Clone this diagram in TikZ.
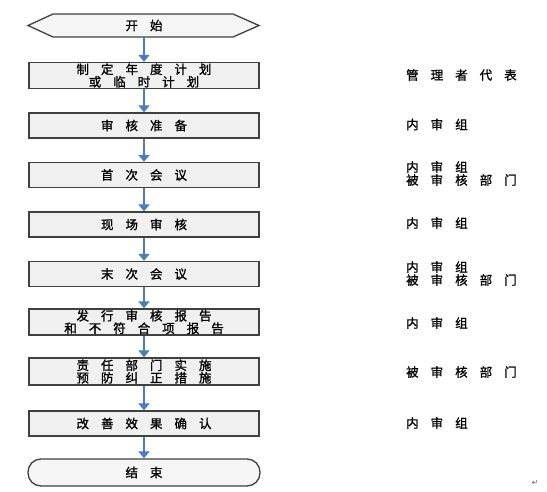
\documentclass[tikz,border=0pt]{standalone}
\usepackage{fontspec}
\newfontfamily\cjk[FakeBold=1.2]{Noto Sans CJK SC}
\newfontfamily\symf{DejaVu Sans}
\usetikzlibrary{arrows.meta}
\definecolor{arrowblue}{HTML}{4A7EBB}
\newlength\cgap \setlength\cgap{12pt}
\def\spc#1{\spci#1\relax}
\def\spci#1#2{#1\ifx\relax#2\else\hskip\cgap\expandafter\spci\expandafter#2\fi}
\tikzset{
  stepbox/.style={draw=black!75, line width=1.3pt, fill=gray!12, minimum width=230pt,
    minimum height=25pt, inner sep=0pt, align=center,
    font=\cjk\fontsize{12.5}{12.5}\selectfont},
  flowarr/.style={draw=arrowblue, line width=1.6pt, -{Triangle[width=11pt,length=7pt]}},
  rolelab/.style={anchor=west, inner sep=0pt, align=left,
    font=\cjk\fontsize{12.5}{13}\selectfont},
  termtext/.style={inner sep=0pt, minimum width=230pt, minimum height=23pt,
    font=\cjk\fontsize{12.5}{12.5}\selectfont}
}
\begin{document}
\begin{tikzpicture}[x=1pt,y=-1pt]
\useasboundingbox (0,0) rectangle (547,492);
% start hexagon
\draw[draw=black!75, line width=1.3pt, fill=gray!8]
  (28,25.5) -- (53,14) -- (233,14) -- (259,25.5) -- (233,37) -- (53,37) -- cycle;
\node[termtext] (start) at (144,25.5) {\spc{开始}};
\node[stepbox, minimum height=26pt] (b1) at (144,75.5) {\spc{制定年度计划}\\\spc{或临时计划}};
\node[stepbox] (b2) at (144,125.5) {\spc{审核准备}};
\node[stepbox] (b3) at (144,175) {\spc{首次会议}};
\node[stepbox] (b4) at (144,224.5) {\spc{现场审核}};
\node[stepbox] (b5) at (144,274) {\spc{末次会议}};
\node[stepbox, minimum height=26pt] (b6) at (144,322) {\spc{发行审核报告}\\\spc{和不符合项报告}};
\node[stepbox, minimum height=27pt] (b7) at (144,371.5) {\spc{责任部门实施}\\\spc{预防纠正措施}};
\node[stepbox] (b8) at (144,423.5) {\spc{改善效果确认}};
\node[draw=black!75, line width=1.3pt, fill=gray!8, rounded corners=13pt,
  minimum width=232pt, minimum height=27pt, inner sep=0pt,
  font=\cjk\fontsize{12.5}{12.5}\selectfont] (end) at (144,472.5) {\spc{结束}};
% arrows
\draw[flowarr] (start.south) -- (b1.north);
\draw[flowarr] (b1.south) -- (b2.north);
\draw[flowarr] (b2.south) -- (b3.north);
\draw[flowarr] (b3.south) -- (b4.north);
\draw[flowarr] (b4.south) -- (b5.north);
\draw[flowarr] (b5.south) -- (b6.north);
\draw[flowarr] (b6.south) -- (b7.north);
\draw[flowarr] (b7.south) -- (b8.north);
\draw[flowarr] (b8.south) -- (end.north);
% roles
\node[rolelab] (r1) at (406,75) {\spc{管理者代表}};
\node[rolelab] (r2) at (406,124.5) {\spc{内审组}};
\node[rolelab] (r3) at (406,173.5) {\spc{内审组}\\\spc{被审核部门}};
\node[rolelab] (r4) at (406,223) {\spc{内审组}};
\node[rolelab] (r5) at (406,273.5) {\spc{内审组}\\\spc{被审核部门}};
\node[rolelab] (r6) at (406,323) {\spc{内审组}};
\node[rolelab] (r7) at (406,372) {\spc{被审核部门}};
\node[rolelab] (r8) at (406,423) {\spc{内审组}};
\node[inner sep=0pt, text=black!60, font=\symf\fontsize{8}{8}\selectfont] (pm) at (535,483) {↵};
\end{tikzpicture}
\end{document}
